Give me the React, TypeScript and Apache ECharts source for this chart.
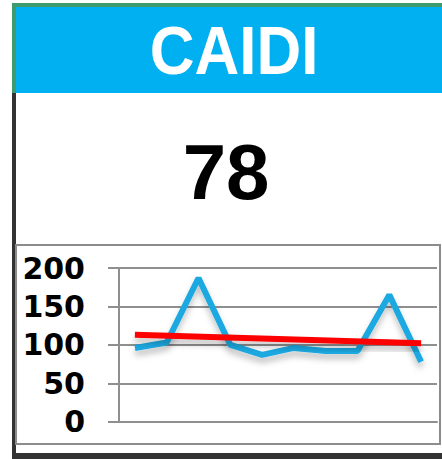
import React, { useEffect, useRef } from "react";
import * as echarts from "echarts";

const categories = ["1", "2", "3", "4", "5", "6", "7", "8", "9", "10"];
const caidiValues = [96, 103, 187, 100, 87, 96, 92, 92, 165, 78];
const trendStart = 113;
const trendEnd = 102;
const yTicks = [0, 50, 100, 150, 200];
const titleText = "CAIDI";
const currentValue = "78";

export default function App() {
  const ref = useRef<HTMLDivElement>(null);
  useEffect(() => {
    if (!ref.current) return;
    const chart = echarts.init(ref.current, null, { renderer: "svg" });
    const trendData = categories.map((_, i) =>
      i === 0 ? trendStart : i === categories.length - 1 ? trendEnd : null
    );
    chart.setOption({
      animation: false,
      backgroundColor: "#ffffff",
      grid: { left: 119, right: 5, top: 268, bottom: 459 - 421.7, containLabel: false },
      xAxis: {
        type: "category",
        data: categories,
        boundaryGap: true,
        axisLine: { show: true, lineStyle: { color: "#8f8f8f", width: 2 } },
        axisTick: { show: false },
        axisLabel: { show: false },
        splitLine: { show: false },
      },
      yAxis: {
        type: "value",
        min: yTicks[0],
        max: yTicks[yTicks.length - 1],
        interval: 50,
        axisLine: { show: true, lineStyle: { color: "#8f8f8f", width: 2 } },
        axisTick: { show: true, length: 11, lineStyle: { color: "#8f8f8f", width: 2 } },
        axisLabel: {
          margin: 34,
          color: "#000000",
          fontFamily: "DejaVu Sans",
          fontWeight: "bold",
          fontSize: 30,
        },
        splitLine: { show: true, lineStyle: { color: "#8f8f8f", width: 2 } },
      },
      series: [
        {
          type: "line",
          data: caidiValues,
          symbol: "none",
          lineStyle: {
            color: "#1aa8e0",
            width: 6,
            shadowColor: "rgba(0,0,0,0.25)",
            shadowBlur: 6,
            shadowOffsetY: 5,
          },
          z: 3,
        },
        {
          type: "line",
          data: trendData,
          connectNulls: true,
          symbol: "none",
          lineStyle: {
            color: "#ff0000",
            width: 6,
            shadowColor: "rgba(0,0,0,0.25)",
            shadowBlur: 6,
            shadowOffsetY: 5,
          },
          z: 4,
        },
      ],
      graphic: [
        { type: "rect", shape: { x: 12, y: 3, width: 430, height: 4 }, style: { fill: "#3f9a70" }, z: 10 },
        { type: "rect", shape: { x: 12, y: 3, width: 4, height: 90 }, style: { fill: "#3f9a70" }, z: 10 },
        { type: "rect", shape: { x: 12, y: 93, width: 4, height: 366 }, style: { fill: "#333333" }, z: 10 },
        { type: "rect", shape: { x: 16, y: 7, width: 426, height: 86 }, style: { fill: "#00b0f0" }, z: 10 },
        {
          type: "text",
          x: 234,
          y: 50,
          scaleY: 1.1,
          style: {
            text: titleText,
            fill: "#ffffff",
            font: "bold 62px 'Liberation Sans', Arial, sans-serif",
            align: "center",
            verticalAlign: "middle",
          },
          z: 11,
        },
        {
          type: "text",
          x: 226,
          y: 172,
          style: {
            text: currentValue,
            fill: "#000000",
            font: "bold 78px 'Liberation Sans', Arial, sans-serif",
            align: "center",
            verticalAlign: "middle",
          },
          z: 11,
        },
        {
          type: "rect",
          shape: { x: 16, y: 245, width: 424, height: 199 },
          style: { fill: "none", stroke: "#8c8c8c", lineWidth: 2 },
          z: 10,
        },
        { type: "rect", shape: { x: 12, y: 453, width: 430, height: 6 }, style: { fill: "#333333" }, z: 10 },
      ],
    });
    return () => chart.dispose();
  }, []);
  return (
    <div
      ref={ref}
      style={{ position: "fixed", left: 0, top: 0, width: 442, height: 459 }}
    />
  );
}
